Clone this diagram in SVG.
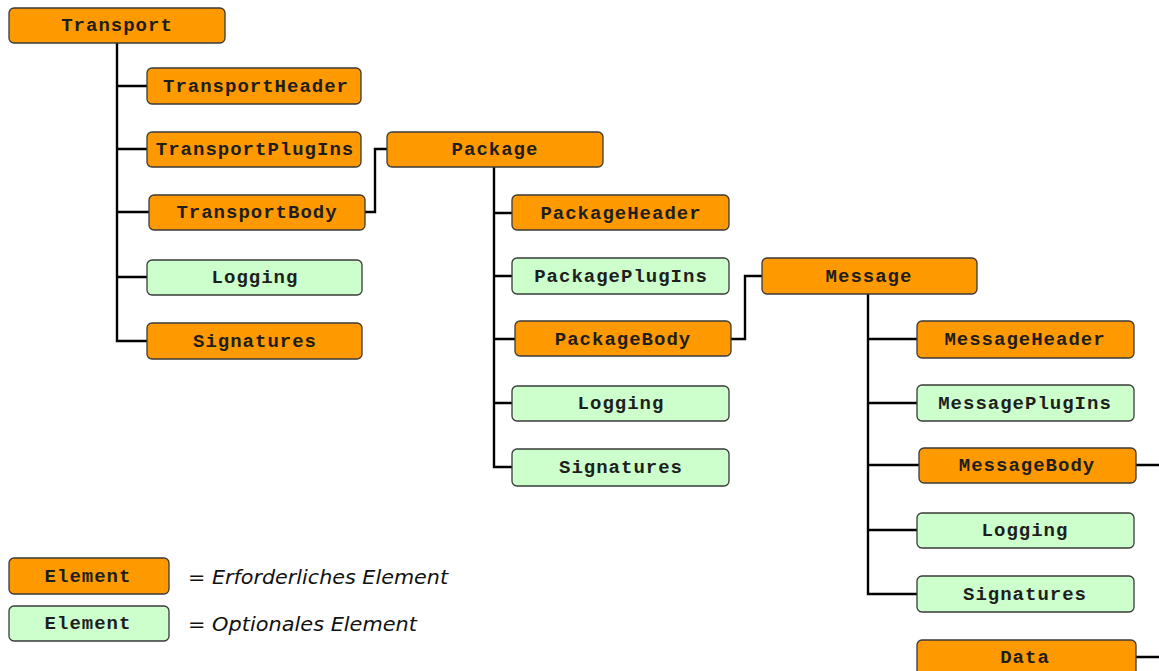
<svg xmlns="http://www.w3.org/2000/svg" width="1159" height="671" viewBox="0 0 1159 671">
  <style>
    .req { fill: #FF9900; stroke: #3a3a3a; stroke-width: 1.3; }
    .opt { fill: #CCFFCC; stroke: #3a3a3a; stroke-width: 1.3; }
    .lbl { font-family: "Liberation Mono", "Courier New", monospace; font-weight: bold; font-size: 19px; letter-spacing: 1px; fill: #1e1e1e; text-anchor: middle; dominant-baseline: central; }
    .leg { font-family: "DejaVu Sans", Verdana, sans-serif; font-style: italic; font-size: 20px; fill: #111; }
    .wire { fill: none; stroke: #000; stroke-width: 2.4; }
  </style>
  <rect width="1159" height="671" fill="#fff"/>

  <!-- tree connectors -->
  <g id="connectors" class="wire">
    <path d="M117 43 V341 H147 M117 86 H147 M117 149 H147 M117 212 H149 M117 277 H147"/>
    <path d="M365 212 H375 V149 H387"/>
    <path d="M494 167 V467 H512 M494 213 H512 M494 276 H512 M494 339 H515 M494 403 H512"/>
    <path d="M731 339 H745 V276 H762"/>
    <path d="M868 294 V594 H917 M868 339 H917 M868 403 H917 M868 465 H919 M868 530 H917"/>
    <path d="M1136 465 H1159 M1136 657 H1159"/>
  </g>

  <!-- Transport level -->
  <g id="transport"><rect class="req" x="9" y="8" width="216" height="35" rx="5"/><text class="lbl" x="117" y="26">Transport</text></g>
  <g id="transport-header"><rect class="req" x="147" y="68" width="214" height="36" rx="5"/><text class="lbl" x="256" y="87">TransportHeader</text></g>
  <g id="transport-plugins"><rect class="req" x="147" y="132" width="214" height="35" rx="5"/><text class="lbl" x="255" y="150">TransportPlugIns</text></g>
  <g id="transport-body"><rect class="req" x="149" y="195" width="216" height="35" rx="5"/><text class="lbl" x="257" y="213">TransportBody</text></g>
  <g id="transport-logging"><rect class="opt" x="147" y="260" width="215" height="35" rx="5"/><text class="lbl" x="255" y="278">Logging</text></g>
  <g id="transport-signatures"><rect class="req" x="147" y="323" width="215" height="36" rx="5"/><text class="lbl" x="255" y="342">Signatures</text></g>

  <!-- Package level -->
  <g id="package"><rect class="req" x="387" y="132" width="216" height="35" rx="5"/><text class="lbl" x="495" y="150">Package</text></g>
  <g id="package-header"><rect class="req" x="512" y="195" width="217" height="35" rx="5"/><text class="lbl" x="621" y="214">PackageHeader</text></g>
  <g id="package-plugins"><rect class="opt" x="512" y="258" width="217" height="36" rx="5"/><text class="lbl" x="621" y="277">PackagePlugIns</text></g>
  <g id="package-body"><rect class="req" x="515" y="321" width="216" height="35" rx="5"/><text class="lbl" x="623" y="340">PackageBody</text></g>
  <g id="package-logging"><rect class="opt" x="512" y="386" width="217" height="35" rx="5"/><text class="lbl" x="621" y="404">Logging</text></g>
  <g id="package-signatures"><rect class="opt" x="512" y="449" width="217" height="37" rx="5"/><text class="lbl" x="621" y="468">Signatures</text></g>

  <!-- Message level -->
  <g id="message"><rect class="req" x="762" y="258" width="215" height="36" rx="5"/><text class="lbl" x="869" y="277">Message</text></g>
  <g id="message-header"><rect class="req" x="917" y="321" width="217" height="37" rx="5"/><text class="lbl" x="1025" y="340">MessageHeader</text></g>
  <g id="message-plugins"><rect class="opt" x="917" y="385" width="217" height="36" rx="5"/><text class="lbl" x="1025" y="404">MessagePlugIns</text></g>
  <g id="message-body"><rect class="req" x="919" y="448" width="217" height="35" rx="5"/><text class="lbl" x="1027" y="466">MessageBody</text></g>
  <g id="message-logging"><rect class="opt" x="917" y="513" width="217" height="35" rx="5"/><text class="lbl" x="1025" y="531">Logging</text></g>
  <g id="message-signatures"><rect class="opt" x="917" y="576" width="217" height="36" rx="5"/><text class="lbl" x="1025" y="595">Signatures</text></g>
  <g id="data"><rect class="req" x="917" y="640" width="219" height="40" rx="5"/><text class="lbl" x="1025" y="658">Data</text></g>

  <!-- legend -->
  <g id="legend-required"><rect class="req" x="9" y="558" width="160" height="36" rx="5"/><text class="lbl" x="88" y="577">Element</text><text class="leg" x="188" y="584" textLength="260" lengthAdjust="spacingAndGlyphs">= Erforderliches Element</text></g>
  <g id="legend-optional"><rect class="opt" x="9" y="606" width="160" height="35" rx="5"/><text class="lbl" x="88" y="624">Element</text><text class="leg" x="188" y="631" textLength="229" lengthAdjust="spacingAndGlyphs">= Optionales Element</text></g>
</svg>
